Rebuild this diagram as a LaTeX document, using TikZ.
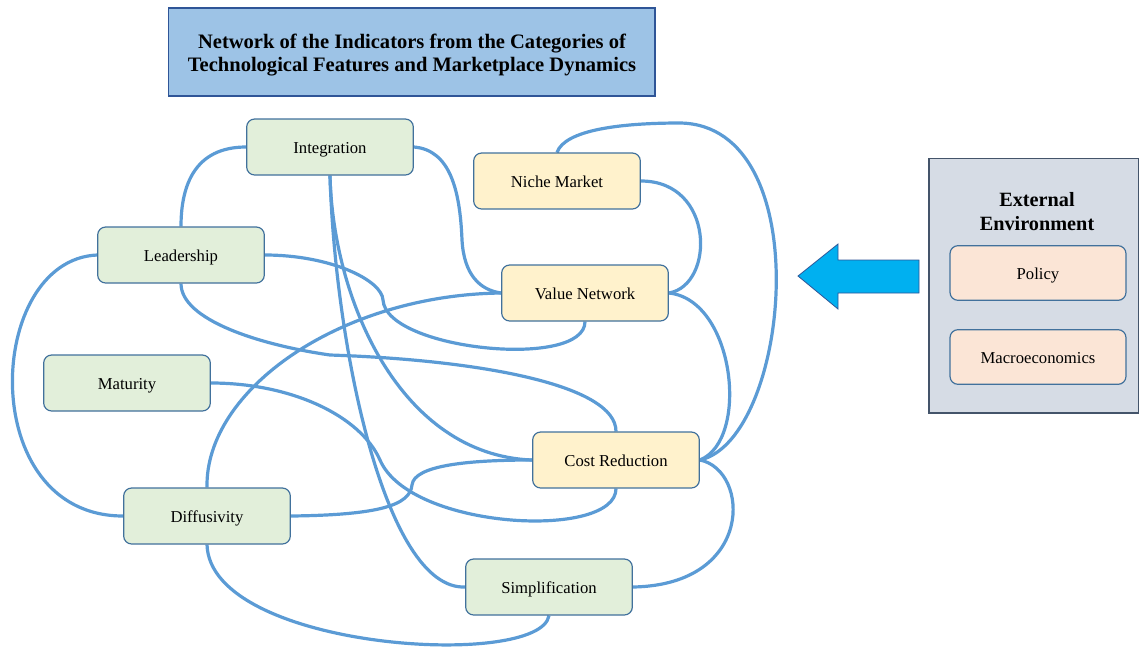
\documentclass[tikz,border=0pt]{standalone}
\usepackage{fontspec}
\setmainfont{Liberation Serif}
\usepackage{tikz}
\usetikzlibrary{backgrounds}

\definecolor{linkblue}{HTML}{5B9BD5}
\definecolor{nodeline}{HTML}{41719C}
\definecolor{techfill}{HTML}{E2EFDA}
\definecolor{marketfill}{HTML}{FFF2CC}
\definecolor{envfill}{HTML}{FBE5D6}
\definecolor{envbg}{HTML}{D6DCE5}
\definecolor{envline}{HTML}{44546A}
\definecolor{titlefill}{HTML}{9DC3E6}
\definecolor{titleline}{HTML}{2F5597}
\definecolor{arrowfill}{HTML}{00B0F0}

\begin{document}
\begin{tikzpicture}[x=0.75pt,y=0.75pt,yscale=-1,xscale=1,
  indicator/.style={draw=nodeline,line width=0.9pt,rounded corners=6pt,minimum width=125pt,minimum height=42pt,inner sep=0.75pt,text height=2.15ex,text depth=0.1ex,font=\fontsize{12.5}{15}\selectfont},
  techbox/.style={indicator,fill=techfill},
  marketbox/.style={indicator,fill=marketfill},
  envitem/.style={indicator,fill=envfill,minimum width=132pt,minimum height=41pt},
  link/.style={draw=linkblue,line width=2.4pt}]
\useasboundingbox (0,0) rectangle (1139,647);

%Shape: Rectangle [title]
\node (title) [draw=titleline,line width=1pt,fill=titlefill,minimum width=365pt,minimum height=66pt] at (411.5,52) {};
\node (titletext) [align=center,font=\fontsize{15.4}{17.3}\selectfont\bfseries] at (412,55) {Network of the Indicators from the Categories of\\Technological Features and Marketplace Dynamics};

%Shape: Rounded Rect [technological features]
\node (integ) [techbox] at (330,147) {Integration};
\node (lead) [techbox] at (181,255) {Leadership};
\node (matur) [techbox] at (127,383) {Maturity};
\node (diffus) [techbox] at (207,516) {Diffusivity};
\node (simpl) [techbox] at (549,587) {Simplification};

%Shape: Rounded Rect [marketplace dynamics]
\node (niche) [marketbox] at (557,181) {Niche Market};
\node (valnet) [marketbox] at (585,293) {Value Network};
\node (costred) [marketbox] at (616,460) {Cost Reduction};

%Shape: Rectangle [external environment]
\node (envbox) [draw=envline,line width=1pt,fill=envbg,minimum width=157pt,minimum height=191pt] at (1033.5,285.5) {};
\node (envtitle) [align=center,font=\fontsize{15.2}{18}\selectfont\bfseries] at (1037,212) {External\\Environment};
\node (policy) [envitem] at (1038,273) {Policy};
\node (macro) [envitem] at (1038,357) {Macroeconomics};

%Shape: Left Arrow
\draw [draw=titleline,line width=0.6pt,fill=arrowfill] (798,276) -- (838,244) -- (838,260) -- (919,260) -- (919,293) -- (838,293) -- (838,309) -- cycle ;

\begin{scope}[on background layer]
%Curve Lines
\draw [link] (integ.west) .. controls (195,147) and (181,185) .. (lead.north) ;
\draw [link] (integ.east) .. controls (450,150) and (460,190) .. (462,240) .. controls (464,275) and (480,290) .. (valnet.west) ;
\draw [link] (integ.south) .. controls (333,300) and (400,455) .. (costred.west) ;
\draw [link] (integ.south) .. controls (335,345) and (385,590) .. (simpl.west) ;
\draw [link] (lead.east) .. controls (330,255) and (382,280) .. (383,300) .. controls (386,350) and (585,370) .. (valnet.south) ;
\draw [link] (lead.south) .. controls (181,320) and (260,345) .. (330,355) .. controls (480,360) and (616,385) .. (costred.north) ;
\draw [link] (lead.west) .. controls (-15,260) and (-25,516) .. (diffus.west) ;
\draw [link] (matur.east) .. controls (290,383) and (360,415) .. (380,460) .. controls (410,530) and (616,540) .. (costred.south) ;
\draw [link] (diffus.east) .. controls (380,515) and (410,505) .. (412,485) .. controls (414,465) and (470,460) .. (costred.west) ;
\draw [link] (diffus.north) .. controls (205,390) and (340,295) .. (valnet.west) ;
\draw [link] (diffus.south) .. controls (210,650) and (540,670) .. (simpl.south) ;
\draw [link] (niche.north) .. controls (565,130) and (620,123) .. (680,123) .. controls (820,125) and (790,440) .. (costred.east) ;
\draw [link] (niche.east) .. controls (715,181) and (715,285) .. (valnet.east) ;
\draw [link] (valnet.east) .. controls (735,300) and (750,440) .. (costred.east) ;
\draw [link] (costred.east) .. controls (750,470) and (755,585) .. (simpl.east) ;
\end{scope}

\end{tikzpicture}
\end{document}
